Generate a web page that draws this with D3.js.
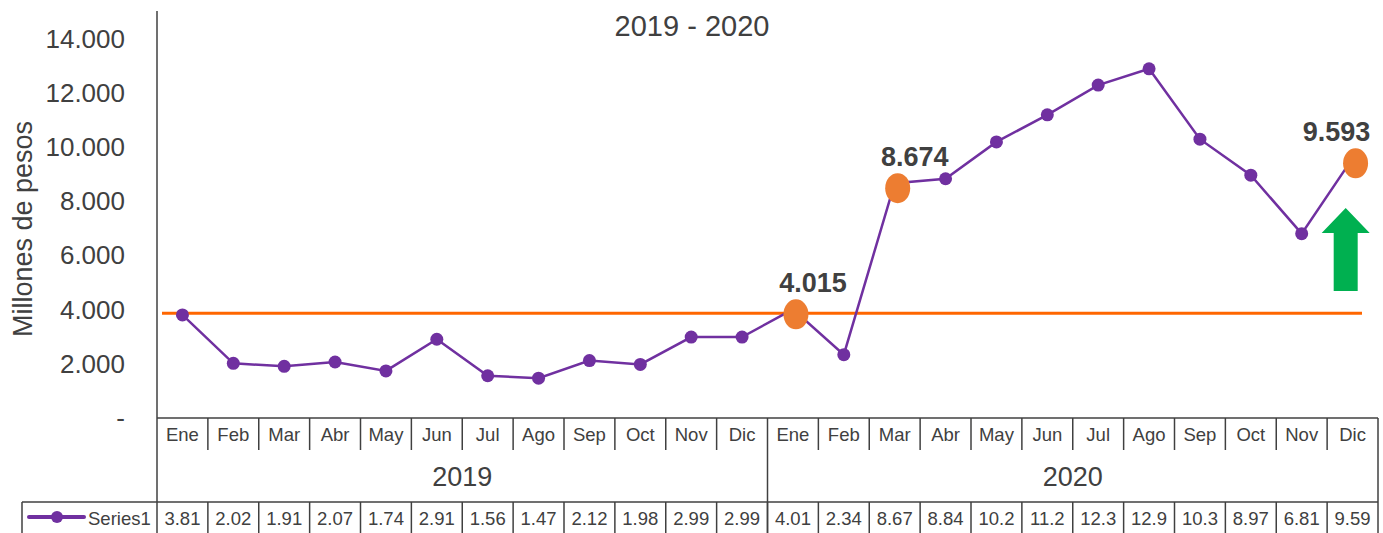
<!DOCTYPE html>
<html>
<head>
<meta charset="utf-8">
<script src="https://cdn.jsdelivr.net/npm/d3@7"></script>
<style>
  body { margin: 0; background: #fff; }
  text { font-family: "Liberation Sans", Arial, Helvetica, sans-serif; fill: #404040; }
</style>
</head>
<body>
<svg id="chart" width="1383" height="533"></svg>
<script>
"use strict";

const months = ["Ene", "Feb", "Mar", "Abr", "May", "Jun", "Jul", "Ago", "Sep", "Oct", "Nov", "Dic",
                "Ene", "Feb", "Mar", "Abr", "May", "Jun", "Jul", "Ago", "Sep", "Oct", "Nov", "Dic"];
const years = ["2019", "2020"];
const values = [3810, 2020, 1910, 2070, 1740, 2910, 1560, 1470, 2120, 1980, 2990, 2990,
                4015, 2340, 8674, 8840, 10200, 11200, 12300, 12900, 10300, 8970, 6810, 9593];
const tableLabels = ["3.81", "2.02", "1.91", "2.07", "1.74", "2.91", "1.56", "1.47", "2.12", "1.98", "2.99", "2.99",
                     "4.01", "2.34", "8.67", "8.84", "10.2", "11.2", "12.3", "12.9", "10.3", "8.97", "6.81", "9.59"];
const highlights = [12, 14, 23];
const highlightLabels = ["4.015", "8.674", "9.593"];
const referenceValue = 3870;
const yTicks = [0, 2000, 4000, 6000, 8000, 10000, 12000, 14000];
const seriesName = "Series1";
const subtitle = "2019 - 2020";
const yTitle = "Millones de pesos";

const svg = d3.select("#chart");
const LEFT = 157, RIGHT = 1378, TOP = 12, BOTTOM = 418;
const MONTH_ROW = 450, YEAR_ROW = 502;
const gridColor = "#404040";
const purple = "#7030A0";

const x = d3.scaleBand().domain(d3.range(values.length)).range([LEFT, RIGHT]);
const xc = i => x(i) + x.bandwidth() / 2;
const y = d3.scaleLinear().domain([0, 15000]).range([BOTTOM, TOP]);

// subtitle
svg.append("text")
    .attr("x", 692).attr("y", 36)
    .attr("text-anchor", "middle")
    .attr("font-size", 29)
    .text(subtitle);

// y axis labels
const yAxis = d3.axisLeft(y)
    .tickValues(yTicks)
    .tickSize(0)
    .tickPadding(0)
    .tickFormat(d => d === 0 ? "-" : d3.format(",")(d).replace(",", "."));
const gy = svg.append("g").attr("transform", "translate(125,0)").call(yAxis);
gy.select(".domain").remove();
gy.selectAll("text")
    .attr("font-size", 26)
    .attr("fill", "#404040")
    .attr("font-family", "Liberation Sans, Arial, sans-serif");

svg.append("text")
    .attr("transform", `translate(32,${(TOP + BOTTOM) / 2 + 14}) rotate(-90)`)
    .attr("text-anchor", "middle")
    .attr("font-size", 27)
    .text(yTitle);

// reference line
svg.append("line")
    .attr("x1", LEFT + 5).attr("x2", RIGHT - 16)
    .attr("y1", y(referenceValue)).attr("y2", y(referenceValue))
    .attr("stroke", "#FF6600")
    .attr("stroke-width", 3);

// series line
const line = d3.line().x((d, i) => xc(i)).y(d => y(d));
svg.append("path")
    .datum(values)
    .attr("d", line)
    .attr("fill", "none")
    .attr("stroke", purple)
    .attr("stroke-width", 2.5);

svg.append("g").selectAll("circle")
    .data(values)
    .join("circle")
    .attr("cx", (d, i) => xc(i))
    .attr("cy", d => y(d))
    .attr("r", 6.5)
    .attr("fill", purple);

// highlighted points
const hl = svg.append("g");
highlights.forEach((idx, k) => {
    hl.append("ellipse")
        .attr("cx", xc(idx) + 3)
        .attr("cy", y(values[idx]) + 5)
        .attr("rx", 12.5)
        .attr("ry", 15)
        .attr("fill", "#ED7D31");
    hl.append("text")
        .attr("x", xc(idx) + (idx === 23 ? -16 : 20))
        .attr("y", y(values[idx]) - 17)
        .attr("text-anchor", "middle")
        .attr("font-size", 27)
        .attr("font-weight", "bold")
        .text(highlightLabels[k]);
});

// green arrow next to the last point
const ax = xc(22) + 44, tip = 208;
svg.append("path")
    .attr("d", `M${ax},${tip} L${ax + 24},${tip + 25} L${ax + 12},${tip + 25} L${ax + 12},${tip + 83}
                L${ax - 12},${tip + 83} L${ax - 12},${tip + 25} L${ax - 24},${tip + 25} Z`)
    .attr("fill", "#00B050");

// category table
const grid = svg.append("g").attr("stroke", gridColor).attr("stroke-width", 1.5);
grid.append("line").attr("x1", LEFT).attr("x2", LEFT).attr("y1", 11).attr("y2", 533);
grid.append("line").attr("x1", LEFT).attr("x2", RIGHT).attr("y1", BOTTOM).attr("y2", BOTTOM);
grid.append("line").attr("x1", RIGHT).attr("x2", RIGHT).attr("y1", BOTTOM).attr("y2", 533);
grid.append("line").attr("x1", 22).attr("x2", RIGHT).attr("y1", YEAR_ROW).attr("y2", YEAR_ROW);
grid.append("line").attr("x1", 22).attr("x2", 22).attr("y1", YEAR_ROW).attr("y2", 533);
d3.range(1, values.length).forEach(i => {
    const yearBreak = i % 12 === 0;
    grid.append("line")
        .attr("x1", x(i)).attr("x2", x(i))
        .attr("y1", BOTTOM).attr("y2", yearBreak ? 533 : MONTH_ROW);
    grid.append("line")
        .attr("x1", x(i)).attr("x2", x(i))
        .attr("y1", YEAR_ROW).attr("y2", 533);
});

svg.append("g").selectAll("text")
    .data(months)
    .join("text")
    .attr("x", (d, i) => xc(i))
    .attr("y", 441)
    .attr("text-anchor", "middle")
    .attr("font-size", 18.5)
    .text(d => d);

svg.append("g").selectAll("text")
    .data(years)
    .join("text")
    .attr("x", (d, i) => (x(i * 12) + x(i * 12 + 11) + x.bandwidth()) / 2)
    .attr("y", 486)
    .attr("text-anchor", "middle")
    .attr("font-size", 27)
    .text(d => d);

svg.append("g").selectAll("text")
    .data(tableLabels)
    .join("text")
    .attr("x", (d, i) => xc(i))
    .attr("y", 525)
    .attr("text-anchor", "middle")
    .attr("font-size", 18.5)
    .text(d => d);

// legend key in table
svg.append("line")
    .attr("x1", 29).attr("x2", 84).attr("y1", 517).attr("y2", 517)
    .attr("stroke", purple).attr("stroke-width", 4).attr("stroke-linecap", "round");
svg.append("circle").attr("cx", 57).attr("cy", 517).attr("r", 6).attr("fill", purple);
svg.append("text")
    .attr("x", 88).attr("y", 525)
    .attr("font-size", 18.5)
    .text(seriesName);
</script>
</body>
</html>
